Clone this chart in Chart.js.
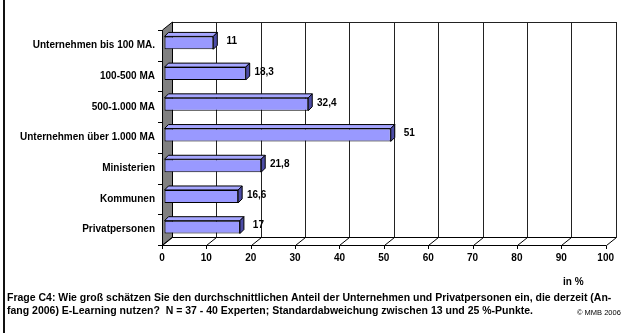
<!DOCTYPE html>
<html><head><meta charset="utf-8">
<script src="https://cdn.jsdelivr.net/npm/chart.js@4.4.1/dist/chart.umd.min.js"></script>
<style>html,body{margin:0;padding:0;background:#fff;}canvas{display:block;}</style>
</head><body>
<canvas id="c" width="621" height="333"></canvas>
<script>
const categories = ["Unternehmen bis 100 MA.", "100-500 MA", "500-1.000 MA", "Unternehmen über 1.000 MA", "Ministerien", "Kommunen", "Privatpersonen"];
const values = [11, 18.3, 32.4, 51, 21.8, 16.6, 17];
const xTicks = [0, 10, 20, 30, 40, 50, 60, 70, 80, 90, 100];
const axisUnit = "in %";
const footLine1 = "Frage C4: Wie groß schätzen Sie den durchschnittlichen Anteil der Unternehmen und Privatpersonen ein, die derzeit (An-";
const footLine2 = "fang 2006) E-Learning nutzen?  N = 37 - 40 Experten; Standardabweichung zwischen 13 und 25 %-Punkte.";
const copyright = "© MMB 2006";

const FONT = "'Liberation Sans', Arial, sans-serif";
const DX = 10, DY = 8;      // depth of back wall
const BX = 2.5, BY = 2.5;   // bar plane offset
const BD = 4;               // bar depth

const fmt = v => String(v).replace('.', ',');

const threeD = {
  id: 'threeD',
  beforeDatasetsDraw(chart) {
    const ctx = chart.ctx, x = chart.scales.x, a = chart.chartArea;
    ctx.save();
    ctx.fillStyle = '#111';
    ctx.fillRect(3, 0, 2, 333);
    const L = a.left, R = a.right, T = a.top, B = a.bottom;
    ctx.strokeStyle = '#222'; ctx.lineWidth = 1;
    xTicks.forEach(t => {
      const px = Math.round(x.getPixelForValue(t)) + DX + 0.5;
      ctx.beginPath(); ctx.moveTo(px, T - DY); ctx.lineTo(px, B - DY); ctx.stroke();
    });
    ctx.beginPath(); ctx.moveTo(L + DX, T - DY + 0.5); ctx.lineTo(R + DX + 1, T - DY + 0.5); ctx.stroke();
    ctx.fillStyle = '#808080';
    ctx.beginPath();
    ctx.moveTo(L + 0.5, T); ctx.lineTo(L + DX + 0.5, T - DY); ctx.lineTo(L + DX + 0.5, B - DY); ctx.lineTo(L + 0.5, B);
    ctx.closePath(); ctx.fill();
    ctx.strokeStyle = '#000'; ctx.stroke();
    const n = categories.length;
    for (let i = 0; i <= n; i++) {
      const py = Math.round(T + (B - T) * i / n) + 0.5;
      ctx.beginPath(); ctx.moveTo(L - 4, py); ctx.lineTo(L + 0.5, py); ctx.stroke();
    }
    ctx.beginPath(); ctx.moveTo(L, B + 0.5); ctx.lineTo(R + 0.5, B + 0.5); ctx.stroke();
    ctx.beginPath(); ctx.moveTo(L + DX, B - DY + 0.5); ctx.lineTo(R + DX + 1, B - DY + 0.5); ctx.stroke();
    xTicks.forEach(t => {
      const px = Math.round(x.getPixelForValue(t)) + 0.5;
      ctx.beginPath(); ctx.moveTo(px, B + 4); ctx.lineTo(px, B + 0.5); ctx.lineTo(px + DX, B - DY + 0.5); ctx.stroke();
    });
    ctx.restore();
    ctx.save();
    ctx.translate(BX, -BY);
  },
  afterDatasetsDraw(chart) {
    const ctx = chart.ctx;
    ctx.restore();
    ctx.save();
    ctx.translate(BX, -BY);
    const meta = chart.getDatasetMeta(0);
    meta.data.forEach((el) => {
      const p = el.getProps(['x', 'y', 'base', 'height'], true);
      const top = p.y - p.height / 2, bot = p.y + p.height / 2;
      ctx.lineWidth = 1; ctx.strokeStyle = '#000';
      ctx.fillStyle = '#A6A6FF';
      ctx.beginPath();
      ctx.moveTo(p.base, top); ctx.lineTo(p.x, top); ctx.lineTo(p.x + BD, top - BD); ctx.lineTo(p.base + BD, top - BD);
      ctx.closePath(); ctx.fill(); ctx.stroke();
      ctx.fillStyle = '#4C4CA6';
      ctx.beginPath();
      ctx.moveTo(p.x, top); ctx.lineTo(p.x + BD, top - BD); ctx.lineTo(p.x + BD, bot - BD); ctx.lineTo(p.x, bot);
      ctx.closePath(); ctx.fill(); ctx.stroke();
    });
    ctx.restore();
    ctx.save();
    ctx.fillStyle = '#000';
    ctx.font = 'bold 10px ' + FONT;
    ctx.textAlign = 'center'; ctx.textBaseline = 'middle';
    meta.data.forEach((el, i) => {
      const p = el.getProps(['x', 'y'], true);
      ctx.fillText(fmt(values[i]), p.x + 21, p.y - 4);
    });
    ctx.textAlign = 'left';
    ctx.fillText(axisUnit, 563, 282);
    ctx.font = 'bold 10.5px ' + FONT;
    ctx.fillText(footLine1, 7, 298);
    ctx.fillText(footLine2, 7, 311);
    ctx.font = '7.5px ' + FONT;
    ctx.fillText(copyright, 577, 313);
    ctx.restore();
  }
};

new Chart(document.getElementById('c'), {
  type: 'bar',
  data: {
    labels: categories,
    datasets: [{
      data: values,
      backgroundColor: '#9999FF',
      borderColor: '#000',
      borderWidth: 1,
      borderSkipped: false,
      categoryPercentage: 1,
      barPercentage: 0.42,
      clip: false
    }]
  },
  options: {
    indexAxis: 'y',
    responsive: false,
    animation: false,
    devicePixelRatio: 1,
    layout: { padding: { left: 0, top: 30, right: 13, bottom: 0 } },
    plugins: { legend: { display: false }, tooltip: { enabled: false } },
    scales: {
      x: {
        min: 0, max: 100,
        afterBuildTicks(s) { s.ticks = xTicks.map(v => ({ value: v })); },
        grid: { display: false, drawTicks: false },
        border: { display: false },
        ticks: { color: '#000', font: { family: FONT, size: 10, weight: 'bold' }, padding: 7, maxRotation: 0 },
        afterFit(s) { s.height = 88; }
      },
      y: {
        grid: { display: false, drawTicks: false },
        border: { display: false },
        ticks: { color: '#000', font: { family: FONT, size: 10, weight: 'bold' }, padding: 7 },
        afterFit(s) { s.width = 162; }
      }
    }
  },
  plugins: [threeD]
});
</script>
</body></html>
